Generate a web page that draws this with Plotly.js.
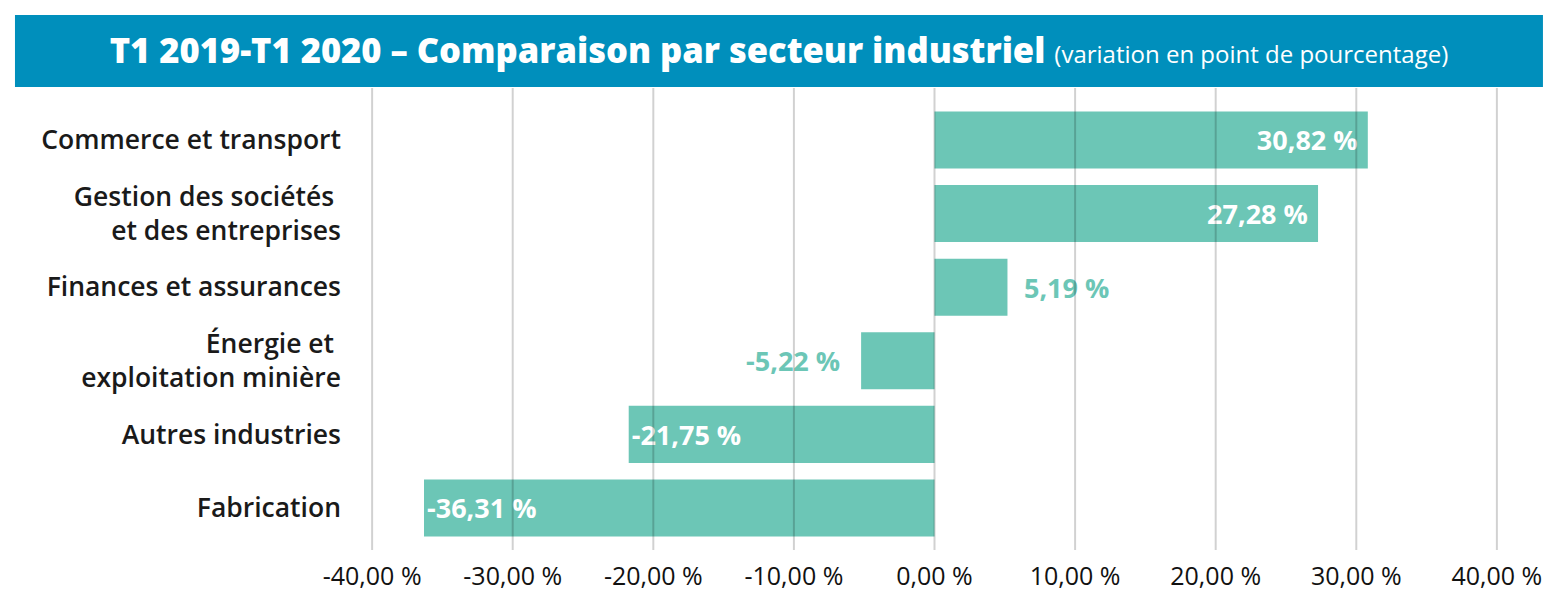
<!DOCTYPE html>
<html>
<head>
<meta charset="utf-8">
<script src="https://cdn.plot.ly/plotly-3.0.1.min.js"></script>
<style>
  html, body { margin: 0; padding: 0; background: #fff; }
  #chart { width: 1558px; height: 610px; }
</style>
</head>
<body>
<div id="chart"></div>
<script>
// Sectors, top to bottom
const sectors = [
  'Commerce et transport',
  'Gestion des sociétés <br>et des entreprises',
  'Finances et assurances',
  'Énergie et <br>exploitation minière',
  'Autres industries',
  'Fabrication'
];

// Change Q1 2019 → Q1 2020, percentage points
const changes = [30.82, 27.28, 5.19, -5.22, -21.75, -36.31];

// Where each value label sits relative to its bar
const labelPositions = ['inside', 'inside', 'outside', 'outside', 'inside', 'inside'];

// X axis ticks
const tickValues = [-40, -30, -20, -10, 0, 10, 20, 30, 40];
const tickLabels = ['-40,00 %', '-30,00 %', '-20,00 %', '-10,00 %', '0,00 %',
                    '10,00 %', '20,00 %', '30,00 %', '40,00 %'];

const TEAL = '#6cc6b6';
const BLUE = '#008fbc';

const frPct = v => v.toFixed(2).replace('.', ',') + '\u00a0%';

// Value labels, padded a little away from the bar ends
const labelText = changes.map((v, i) => {
  const s = frPct(v);
  if (labelPositions[i] === 'outside') {
    return v >= 0 ? '\u2002' + s : s + '\u2002\u2009';
  }
  return v >= 0 ? s + '\u2009\u200a' : s;
});

const trace = {
  type: 'bar',
  orientation: 'h',
  x: changes,
  y: sectors,
  marker: { color: TEAL, line: { width: 0 } },
  text: labelText,
  textposition: labelPositions,
  insidetextanchor: 'end',
  insidetextfont: { family: 'Open Sans', size: 27, color: '#ffffff', weight: 700 },
  outsidetextfont: { family: 'Open Sans', size: 27, color: TEAL, weight: 700 },
  cliponaxis: false,
  constraintext: 'none',
  hoverinfo: 'skip'
};

// Vertical guide lines drawn over the bars at every tick
const gridShapes = tickValues.map(v => ({
  type: 'line', xref: 'x', yref: 'paper',
  x0: v, x1: v, y0: 0, y1: 1,
  line: { color: 'rgba(0,0,0,0.18)', width: 2 },
  layer: 'above'
}));

const banner = {
  type: 'rect', xref: 'paper', yref: 'paper',
  x0: -0.2786, x1: 1.0152, y0: 1.0022, y1: 1.158,
  fillcolor: BLUE, line: { width: 0 }, layer: 'below'
};

const layout = {
  width: 1558,
  height: 610,
  margin: { l: 344, r: 33, t: 88, b: 60 },
  paper_bgcolor: '#ffffff',
  plot_bgcolor: '#ffffff',
  showlegend: false,
  bargap: 0.225,
  title: {
    text: 'T1 2019-T1 2020 – Comparaison par secteur industriel ' +
          '<span style="font-size:24px;font-weight:400">(variation en point de pourcentage)</span>',
    font: { family: 'Open Sans', size: 34.5, color: '#ffffff', weight: 800 },
    x: 0.5, xref: 'container', xanchor: 'center',
    y: 0.9164, yref: 'container', yanchor: 'middle'
  },
  xaxis: {
    range: [-42, 42],
    tickvals: tickValues,
    ticktext: tickLabels,
    showgrid: false,
    zeroline: false,
    showline: false,
    ticks: '',
    ticklabelstandoff: 9,
    tickfont: { family: 'Open Sans', size: 25, color: '#111111' },
    fixedrange: true
  },
  yaxis: {
    type: 'category',
    range: [5.571, -0.7065],
    showgrid: false,
    zeroline: false,
    showline: false,
    ticks: '',
    ticklabelstandoff: 2,
    tickfont: { family: 'Open Sans', size: 26.5, color: '#1a1a1a', weight: 600 },
    fixedrange: true
  },
  shapes: [banner, ...gridShapes]
};

Plotly.newPlot('chart', [trace], layout, { displayModeBar: false, staticPlot: true });
</script>
</body>
</html>
